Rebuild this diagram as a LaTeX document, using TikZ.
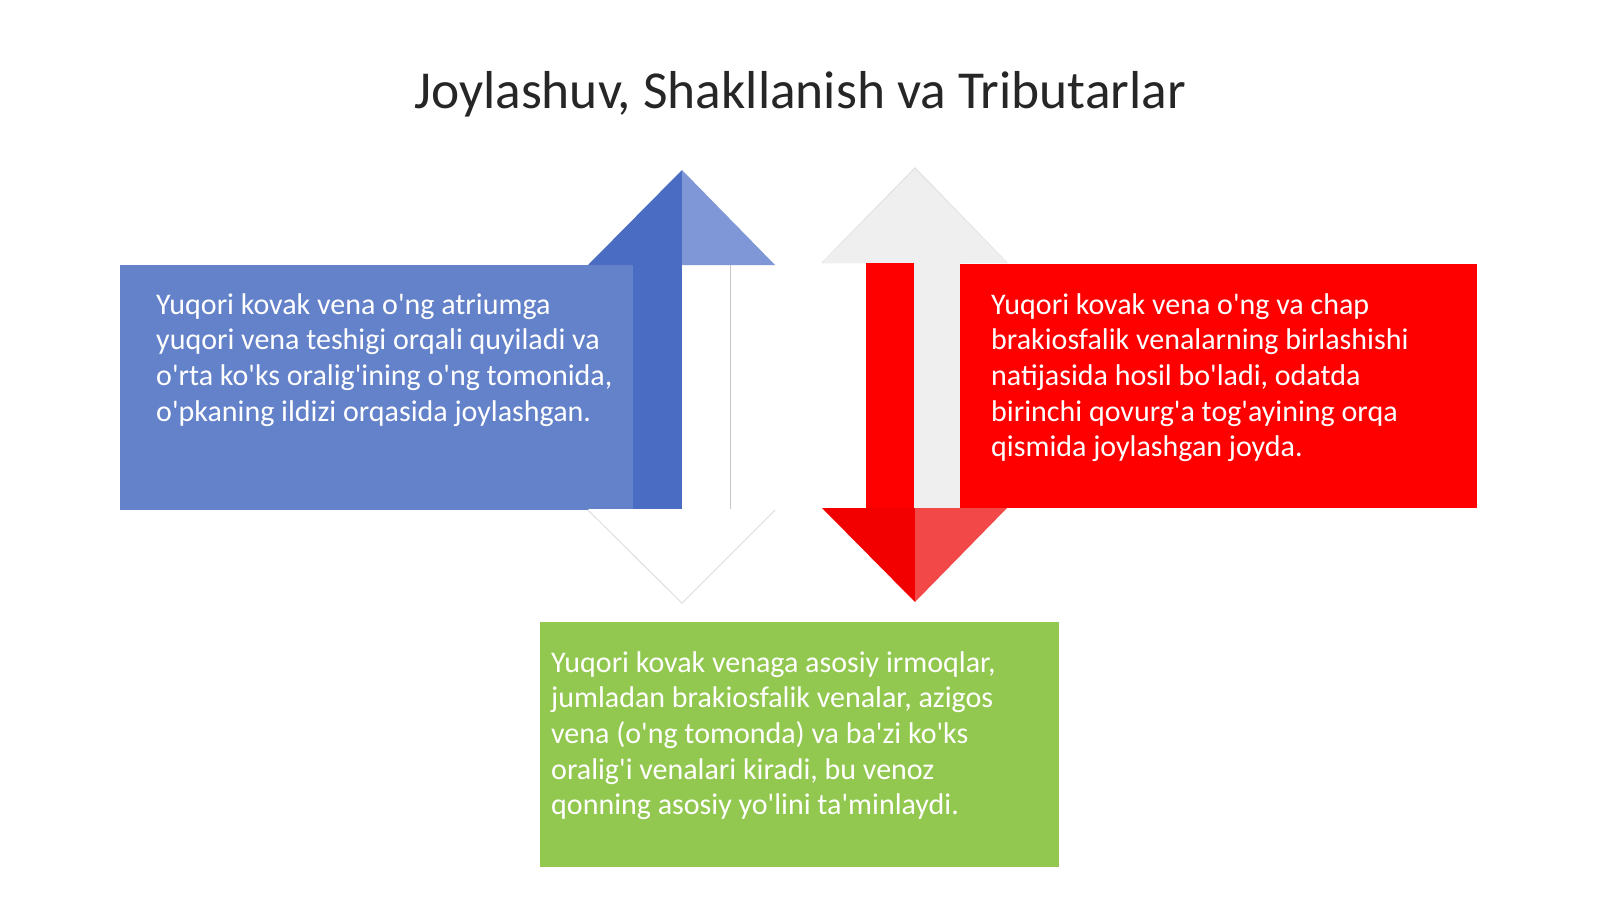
\documentclass[tikz,border=0pt]{standalone}
\usepackage{fontspec}
\setmainfont{Carlito}[Ligatures=TeXOff]
\definecolor{blueL}{HTML}{6482C9}
\definecolor{blueD}{HTML}{4A6CC2}
\definecolor{blueM}{HTML}{7F97D6}
\definecolor{redA}{HTML}{FF0000}
\definecolor{redD}{HTML}{F20000}
\definecolor{redM}{HTML}{F24848}
\definecolor{greyA}{HTML}{EFEFEF}
\definecolor{greenA}{HTML}{92C850}
\definecolor{titleC}{HTML}{262626}
\tikzset{
  bodytext/.style={anchor=north west, inner sep=0pt, align=left, text=white,
    font=\fontsize{30}{35.7}\selectfont},
  softedge/.style={draw=black!12, line width=1.2pt},
}
\begin{document}
\begin{tikzpicture}[x=1pt,y=-1pt]
\useasboundingbox (0,0) rectangle (1600,899);
\fill[white] (0,0) rectangle (1600,899);
% title
\node[font=\fontsize{53.4}{64}\selectfont, text=titleC] (title) at (800,94) {Joylashuv, Shakllanish va Tributarlar};
% ---- left (blue, up) arrow ----
\fill[blueL] (120,265) rectangle (634,510);
\fill[blueD] (633,265) rectangle (682,509);
\fill[white] (682,265) rectangle (730,509);
\draw[black!22, line width=1pt] (730,265) -- (730,509);
\fill[blueD] (588,265) -- (682,170) -- (682,265) -- cycle;
\fill[blueM] (682,170) -- (775,265) -- (682,265) -- cycle;
\draw[softedge, fill=white] (588,510) -- (682,603) -- (775,510);
\fill[white] (588,509) -- (775,509) -- (682,602) -- cycle;
% ---- right (red, down) arrow ----
\draw[softedge, fill=greyA] (822,263) -- (915,168) -- (1007,263);
\fill[greyA] (822,263) -- (915,169) -- (1007,263) -- cycle;
\fill[redA] (866,263) rectangle (914,508);
\fill[greyA] (914,263) rectangle (961,508);
\fill[redA] (960,264) rectangle (1477,508);
\fill[redD] (822,508) -- (915,508) -- (915,602) -- cycle;
\fill[redM] (915,508) -- (1007,508) -- (915,602) -- cycle;
% ---- green box ----
\fill[greenA] (540,622) rectangle (1059,867);
% ---- texts ----
\node[bodytext] (tblue) at (156,293) {Yuqori kovak vena o'ng atriumga\\yuqori vena teshigi orqali quyiladi va\\o'rta ko'ks oralig'ining o'ng tomonida,\\o'pkaning ildizi orqasida joylashgan.};
\node[bodytext] (tred) at (991,293) {Yuqori kovak vena o'ng va chap\\brakiosfalik venalarning birlashishi\\natijasida hosil bo'ladi, odatda\\birinchi qovurg'a tog'ayining orqa\\qismida joylashgan joyda.};
\node[bodytext] (tgreen) at (551,651) {Yuqori kovak venaga asosiy irmoqlar,\\jumladan brakiosfalik venalar, azigos\\vena (o'ng tomonda) va ba'zi ko'ks\\oralig'i venalari kiradi, bu venoz\\qonning asosiy yo'lini ta'minlaydi.};
\end{tikzpicture}
\end{document}
